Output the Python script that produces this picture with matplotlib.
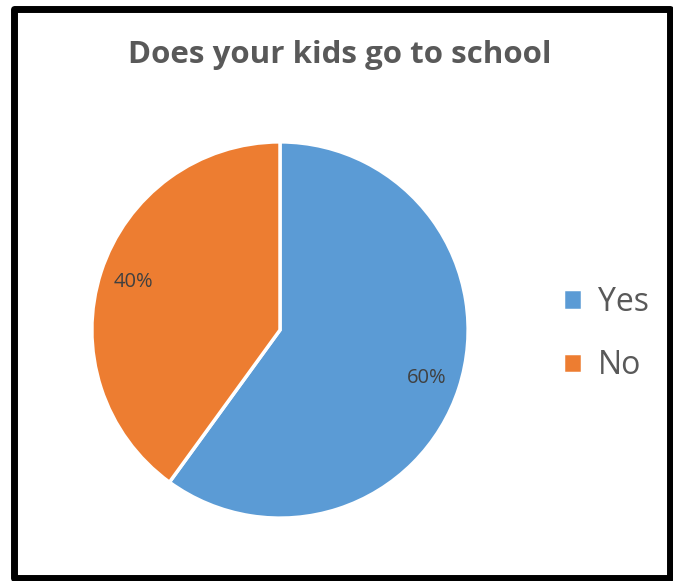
import matplotlib.pyplot as plt
from matplotlib.patches import Rectangle

labels = ['Yes', 'No']
shares = [60, 40]
colors = ['#5B9BD5', '#ED7D31']

W, H = 673, 581
fig = plt.figure(figsize=(W / 100, H / 100), dpi=100)
plt.rcParams['font.family'] = ['Open Sans', 'DejaVu Sans']

# frame round the whole chart
fig.patches.append(Rectangle((13.5 / W, 3 / H), 656 / W, 569.5 / H, transform=fig.transFigure,
                             fill=False, edgecolor='black', linewidth=5, joinstyle='round'))

fig.text(340 / W, 1 - 55 / H, 'Does your kids go to school', ha='center', va='center',
         fontsize=22.5, fontweight='bold', color='#595959')

cx, cy, r = 280, 330, 190
ax = fig.add_axes([(cx - r) / W, (H - cy - r) / H, 2 * r / W, 2 * r / H])
wedges, texts, autotexts = ax.pie(shares, colors=colors, startangle=90, counterclock=False,
                                  autopct='%d%%', pctdistance=0.82,
                                  wedgeprops=dict(edgecolor='white', linewidth=2.5))
for t in autotexts:
    t.set_fontsize(14.5)
    t.set_color('#404040')
ax.set_xlim(-1.01, 1.01)
ax.set_ylim(-1.01, 1.01)
ax.set_aspect('equal')

leg = fig.legend(wedges, labels, loc='center left', bbox_to_anchor=(534 / W, 1 - 334 / H),
                 frameon=False, fontsize=23, handlelength=0.6, handleheight=0.6,
                 handletextpad=0.5, labelspacing=0.95, labelcolor='#595959')

fig.savefig('out.png', dpi=100)
